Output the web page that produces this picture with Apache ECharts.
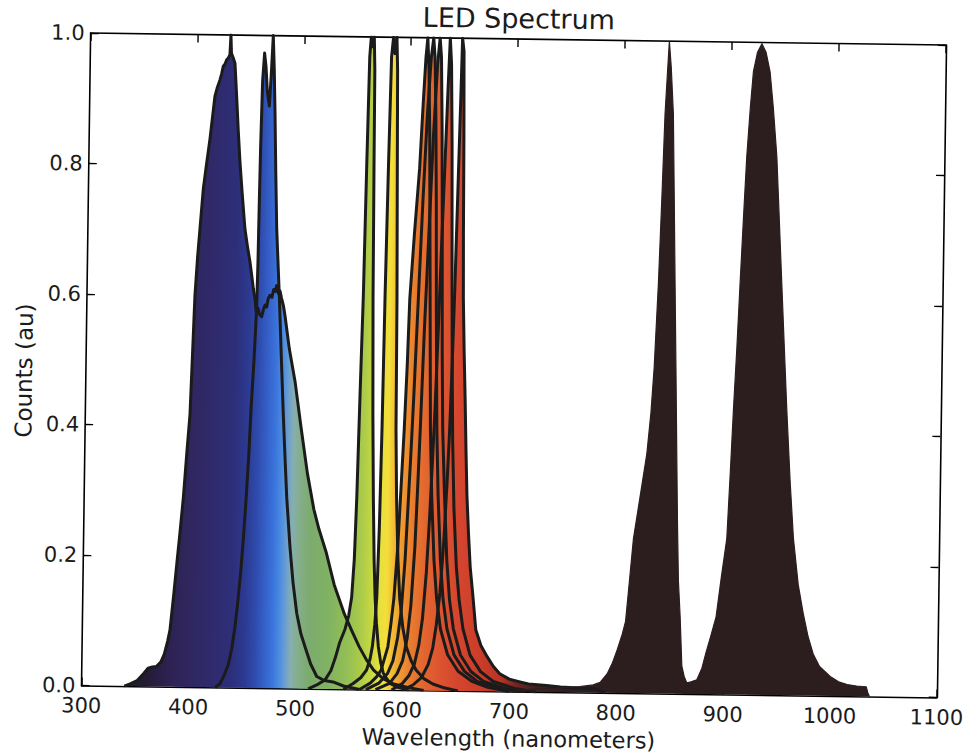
<!DOCTYPE html>
<html>
<head>
<meta charset="utf-8">
<title>LED Spectrum</title>
<script src="https://cdn.jsdelivr.net/npm/echarts@6/dist/echarts.min.js"></script>
<style>
  html, body { margin: 0; padding: 0; background: #fff; overflow: hidden; }
  #chart { width: 971px; height: 755px; transform: rotate(0.8deg); transform-origin: 514px 367px; }
</style>
</head>
<body>
<div id="chart"></div>
<script>
// Axis ticks
const xTicks = [300, 400, 500, 600, 700, 800, 900, 1000, 1100];
const yTicks = [0.0, 0.2, 0.4, 0.6, 0.8, 1.0];

// Measured LED spectra: [wavelength (nm), normalised counts]
const violet431 = [
  [340,0],[346,0.004],[352,0.009],[358,0.02],[362,0.028],[366,0.03],[370,0.031],[374,0.038],[377,0.05],
  [380,0.07],[382,0.087],[385,0.14],[387.5,0.188],[390,0.235],[392.8,0.29],[395.5,0.36],[397.9,0.417],
  [399.5,0.51],[401,0.6],[403,0.66],[404.8,0.702],[407.4,0.763],[410,0.8],[413,0.84],[415,0.872],
  [417.1,0.906],[419,0.918],[421.6,0.931],[423,0.94],[424.5,0.952],[426,0.955],[427.6,0.962],[429,0.964],
  [430.6,0.97],[431.3,1.0],[432,0.972],[433.5,0.966],[435.4,0.957],[437.4,0.906],[439.3,0.855],[441.4,0.805],
  [444,0.755],[446.9,0.703],[449.5,0.676],[452,0.653],[454,0.63],[455.5,0.612],[457.2,0.597],[458.3,0.578],
  [460,0.582],[461.8,0.572],[463.7,0.569],[465.2,0.58],[466.7,0.587],[468.2,0.584],[469.6,0.597],[471.2,0.602],
  [473,0.599],[474.6,0.611],[476,0.608],[477.3,0.617],[479,0.605],[480.5,0.609],[482,0.598],[483.8,0.587],
  [485.5,0.571],[490,0.52],[495.7,0.471],[502,0.4],[508.5,0.33],[515,0.275],[520,0.245],[527,0.21],
  [535,0.16],[545,0.115],[552,0.09],[559,0.066],[566,0.046],[573,0.03],[582,0.017],[592,0.009],[605,0.004],[620,0]
];
const blue471 = [
  [425,0],[429.5,0.006],[433,0.018],[437,0.035],[440,0.06],[442.5,0.09],[445,0.13],[447.5,0.18],[449.5,0.23],
  [451.5,0.29],[453.5,0.36],[455,0.43],[457,0.5],[458.8,0.58],[459.5,0.65],[460,0.75],[460.5,0.83],[461.5,0.93],
  [463,0.973],[464.5,0.952],[466,0.915],[468.1,0.892],[469.5,0.94],[470.9,1.0],[472.2,0.95],[473.5,0.882],
  [475,0.79],[476.6,0.704],[479.9,0.602],[482.5,0.51],[485.2,0.419],[487.3,0.355],[489.5,0.292],[493.2,0.216],
  [496.5,0.162],[500.4,0.115],[504.5,0.084],[508.6,0.064],[514,0.038],[519.9,0.019],[527,0.013],[535.2,0.011],
  [545,0.005],[560,0]
];
const yellowGreen564 = [
  [512,0],[520,0.006],[527.7,0.014],[533,0.028],[537,0.048],[541,0.072],[545.7,0.092],[549,0.113],[551.5,0.141],
  [553.5,0.2],[555,0.294],[556.7,0.451],[558.5,0.604],[560,0.807],[561.4,0.97],[562.6,1.0],[564,0.985],[565.4,1.0],
  [566.3,0.95],[566.8,0.8],[567.6,0.6],[569,0.42],[570.5,0.294],[572,0.2],[573.4,0.142],[575,0.102],[577.1,0.066],
  [579.5,0.042],[582.2,0.025],[588.5,0.01],[596,0.004],[606,0]
];
const yellow586 = [
  [545,0],[554,0.009],[561,0.018],[566.4,0.03],[569.5,0.047],[571.5,0.066],[573.5,0.1],[575,0.142],[576.5,0.25],
  [577.7,0.4],[578.8,0.6],[580.3,0.8],[581.8,0.97],[583.4,1.0],[585,0.975],[586.6,1.0],[587.6,0.95],[588.6,0.8],
  [590,0.6],[590.8,0.4],[592.2,0.295],[594.3,0.2],[596.5,0.14],[599.8,0.095],[603.3,0.066],[608,0.045],
  [612.7,0.031],[620,0.018],[628.6,0.01],[640,0.004],[652,0]
];
const orange615 = [
  [560,0],[570,0.01],[576,0.02],[580,0.03],[586,0.066],[588.5,0.1],[591,0.14],[594,0.22],[596,0.3],[598.5,0.4],
  [600.5,0.5],[602,0.6],[605.5,0.7],[609.5,0.8],[612,0.9],[614,0.97],[615.5,1.0],[617,0.95],[618.5,0.85],
  [620,0.7],[621.5,0.55],[623,0.4],[625,0.3],[628,0.2],[631,0.14],[635,0.094],[642,0.055],[652,0.03],
  [665,0.015],[680,0.006],[700,0]
];
const orange621 = [
  [566,0],[578,0.01],[586,0.025],[591,0.045],[595,0.08],[598,0.12],[601,0.2],[603,0.28],[605,0.36],[607,0.45],
  [610,0.6],[613,0.75],[616,0.88],[619,0.97],[621,1.0],[622.5,0.97],[624,0.88],[625.5,0.75],[627,0.58],
  [629,0.4],[631,0.3],[634,0.2],[637,0.14],[641,0.095],[648,0.055],[658,0.03],[670,0.015],[690,0.005],[710,0]
];
const orange627 = [
  [575,0],[588,0.01],[595,0.025],[600,0.045],[604,0.08],[607,0.13],[610,0.22],[612,0.32],[613.5,0.4],[616,0.55],
  [619,0.7],[622,0.85],[625,0.96],[627,1.0],[628.5,0.97],[630,0.86],[631.5,0.7],[633,0.52],[634.5,0.4],
  [637,0.3],[640,0.2],[643,0.14],[647,0.095],[654,0.055],[664,0.03],[676,0.015],[695,0.005],[715,0]
];
const red637 = [
  [590,0],[600,0.01],[606,0.022],[611,0.04],[615,0.07],[618,0.11],[621,0.18],[623.5,0.27],[625.5,0.36],
  [627,0.43],[629,0.55],[631,0.68],[633,0.8],[635,0.92],[636.5,1.0],[638,0.96],[639.5,0.84],[641,0.66],
  [642.5,0.5],[644,0.38],[646,0.28],[649,0.19],[652,0.14],[656,0.095],[663,0.055],[673,0.03],[685,0.015],
  [705,0.005],[725,0]
];
const red647 = [
  [600,0],[610,0.008],[618,0.02],[624,0.04],[628,0.065],[631,0.1],[634,0.15],[637,0.23],[639.5,0.33],[641,0.4],
  [642.5,0.5],[644,0.62],[645.5,0.76],[647,0.9],[648,1.0],[649.5,0.98],[650.5,0.85],[651.3,0.7],[652.1,0.6],
  [653.5,0.52],[655,0.45],[656.5,0.37],[658,0.3],[660,0.24],[662,0.19],[665,0.144],[668,0.094],[673,0.07],
  [679,0.053],[685,0.038],[691,0.027],[700,0.019],[710,0.015],[718,0.012],[735,0.01],[748,0.008],[765,0.007],
  [780,0.006],[790,0]
];
const ir841 = [
  [700,0],[720,0.004],[750,0.007],[766,0.009],[778.5,0.012],[785,0.016],[791.4,0.029],[796,0.045],[800.5,0.066],
  [805,0.09],[808,0.11],[810.5,0.16],[814.3,0.237],[820,0.302],[825.7,0.367],[829,0.43],[831.4,0.498],
  [834.3,0.628],[836.4,0.758],[838.3,0.888],[840,0.95],[841.4,1.0],[843.5,0.96],[846.1,0.888],[848,0.76],
  [849.9,0.628],[851.8,0.5],[853.7,0.368],[855.3,0.26],[856.9,0.173],[859,0.118],[861.2,0.043],[863.5,0.027],
  [866.1,0.017],[870,0.012],[880,0.006],[895,0]
];
const ir928 = [
  [862,0],[866.1,0.017],[870,0.019],[875.4,0.022],[880,0.04],[883.8,0.065],[888,0.09],[892.6,0.119],[897,0.18],
  [901.6,0.239],[904,0.34],[906.1,0.435],[908.5,0.53],[910.7,0.63],[913,0.73],[915.3,0.825],[918,0.9],
  [920.4,0.955],[924,0.985],[928,0.998],[932,0.985],[936,0.955],[939.5,0.9],[943.4,0.826],[946.5,0.73],
  [949.7,0.631],[953,0.53],[956.1,0.436],[960,0.33],[963.9,0.241],[969,0.17],[974.3,0.124],[979,0.09],
  [983.9,0.064],[990,0.045],[1000.1,0.03],[1008,0.022],[1016.1,0.018],[1025,0.016],[1033.9,0.015],
  [1035.5,0.006],[1037,0]
];

const visibleLeds = [
  { name: 'Violet 431 nm', data: violet431 },
  { name: 'Blue 471 nm', data: blue471 },
  { name: 'Yellow-green 564 nm', data: yellowGreen564 },
  { name: 'Yellow 586 nm', data: yellow586 },
  { name: 'Orange 615 nm', data: orange615 },
  { name: 'Orange 621 nm', data: orange621 },
  { name: 'Orange 627 nm', data: orange627 },
  { name: 'Red 637 nm', data: red637 },
  { name: 'Red 647 nm', data: red647 }
];
const infraredLeds = [
  { name: 'IR 841 nm', data: ir841 },
  { name: 'IR 928 nm', data: ir928 }
];

// Wavelength -> fill colour (approximate visible spectrum, dark beyond 720 nm)
const spectrumStops = [
  [300,'#1d1a28'],[360,'#231c33'],[380,'#2c2150'],[400,'#30275f'],[420,'#2f2a6c'],[440,'#2d2f7a'],
  [452,'#2c3a92'],[462,'#2f4cae'],[470,'#3460c8'],[478,'#3a74dc'],[485,'#4f8ee0'],[490,'#6c9fd0'],
  [495,'#86aeb0'],[502,'#84ae8a'],[512,'#7cab6e'],[530,'#80b262'],[548,'#94bf55'],[560,'#aaca4a'],
  [570,'#c6d840'],[578,'#e6e03c'],[584,'#f4de3a'],[590,'#f2bc34'],[598,'#ee9830'],[608,'#e87a2e'],
  [620,'#e2652f'],[635,'#dc5430'],[650,'#d4462e'],[670,'#cc3e2a'],[692,'#b83424'],[705,'#7a2620'],
  [725,'#3e1f1f'],[760,'#2c1e1f'],[1100,'#2c1e1f']
];

const FONT = 'DejaVu Sans';
const INK = '#1b1b1b';
const xMin = xTicks[0], xMax = xTicks[xTicks.length - 1], xStep = xTicks[1] - xTicks[0];
const yMin = yTicks[0], yMax = yTicks[yTicks.length - 1], yStep = yTicks[1] - yTicks[0];

const chart = echarts.init(document.getElementById('chart'), null, { renderer: 'svg' });

function frameAxis(extra) {
  return Object.assign({
    type: 'value',
    axisLine: { show: true, onZero: false, lineStyle: { color: '#000', width: 1.6 } },
    axisTick: { show: true, inside: true, length: 8, lineStyle: { color: '#000', width: 1.4 } },
    splitLine: { show: false },
    axisLabel: { show: false }
  }, extra);
}

const tickLabelStyle = { fontFamily: FONT, fontSize: 21, lineHeight: 20, color: INK };

const baseOption = {
  animation: false,
  backgroundColor: '#fff',
  title: {
    text: 'LED Spectrum',
    left: 509, top: 0, textAlign: 'center',
    textStyle: { fontFamily: FONT, fontSize: 27, fontWeight: 'normal', color: INK }
  },
  grid: { left: 86, right: 29, top: 39, bottom: 59.5, containLabel: false },
  xAxis: [
    frameAxis({
      position: 'bottom', min: xMin, max: xMax, interval: xStep,
      axisLabel: { show: true, margin: 10, formatter: v => String(v), ...tickLabelStyle },
      name: 'Wavelength (nanometers)', nameLocation: 'middle', nameGap: 33,
      nameTextStyle: { fontFamily: FONT, fontSize: 22.5, color: INK }
    }),
    frameAxis({ position: 'top', min: xMin, max: xMax, interval: xStep })
  ],
  yAxis: [
    frameAxis({
      position: 'left', min: yMin, max: yMax, interval: yStep,
      axisLabel: { show: true, margin: 6, formatter: v => v.toFixed(1), ...tickLabelStyle },
      name: 'Counts (au)', nameLocation: 'middle', nameGap: 50,
      nameTextStyle: { fontFamily: FONT, fontSize: 23, color: INK, padding: [0, 24, 0, 0] }
    }),
    frameAxis({ position: 'right', min: yMin, max: yMax, interval: yStep })
  ],
  series: []
};
chart.setOption(baseOption);

// Horizontal gradient in pixel space so every LED is coloured by wavelength
const px0 = chart.convertToPixel({ xAxisIndex: 0 }, xMin);
const px1 = chart.convertToPixel({ xAxisIndex: 0 }, xMax);
const spectrumFill = {
  type: 'linear', x: px0, y: 0, x2: px1, y2: 0, global: true,
  colorStops: spectrumStops.map(([nm, c]) => ({ offset: (nm - xMin) / (xMax - xMin), color: c }))
};

const allLeds = visibleLeds.concat(infraredLeds);
const fills = allLeds.map(led => ({
  type: 'line', name: led.name + ' fill', data: led.data,
  xAxisIndex: 0, yAxisIndex: 0, symbol: 'none', silent: true, z: 2,
  lineStyle: { width: 0 },
  areaStyle: { color: spectrumFill, opacity: 1 }
}));
const outlines = visibleLeds.map(led => ({
  type: 'line', name: led.name, data: led.data,
  xAxisIndex: 0, yAxisIndex: 0, symbol: 'none', silent: true, z: 3,
  lineStyle: { color: INK, width: 3, join: 'round' }
})).concat(infraredLeds.map(led => ({
  type: 'line', name: led.name, data: led.data,
  xAxisIndex: 0, yAxisIndex: 0, symbol: 'none', silent: true, z: 3,
  lineStyle: { color: '#2c1e1f', width: 1.2, join: 'round' }
})));

chart.setOption({ series: fills.concat(outlines) });
</script>
</body>
</html>
